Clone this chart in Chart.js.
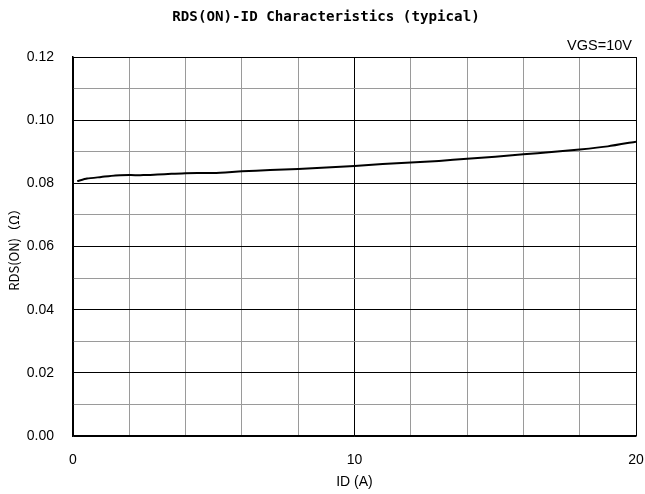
<!DOCTYPE html>
<html>
<head>
<meta charset="utf-8">
<script src="https://cdn.jsdelivr.net/npm/chart.js@4.4.1/dist/chart.umd.min.js"></script>
<style>
  html, body { margin: 0; padding: 0; background: #fff; }
  #wrap { width: 645px; height: 494px; }
</style>
</head>
<body>
<div id="wrap"><canvas id="c" width="645" height="494"></canvas></div>
<script>
// drain current vs on-resistance
const idValues  = [0.15, 0.5, 1, 1.5, 2, 2.5, 3, 3.5, 4, 5, 6, 7, 8, 9, 10, 11, 12, 13, 14, 15, 16, 17, 18, 19, 20]
const rdsValues = [0.0807, 0.0815, 0.0820, 0.0825, 0.0826, 0.0826, 0.0828, 0.0830, 0.0832, 0.0833, 0.0838, 0.0842,
                   0.0845, 0.0850, 0.0855, 0.0861, 0.0866, 0.0871, 0.0878, 0.0884, 0.0892, 0.0899, 0.0907, 0.0917, 0.0932]
const xLabelTicks = [0, 10, 20]
const yLabelTicks = [0, 0.02, 0.04, 0.06, 0.08, 0.10, 0.12]

const chartTitle = 'RDS(ON)-ID Characteristics (typical)'
const conditionText = 'VGS=10V'

const tickFont = { family: 'Liberation Sans, Arial, sans-serif', size: 14 }

const headerPlugin = {
  id: 'header',
  afterDraw(chart) {
    const { ctx, chartArea } = chart
    ctx.save()
    ctx.fillStyle = '#000'
    ctx.textBaseline = 'middle'
    ctx.font = 'bold 14.2px "DejaVu Sans Mono", monospace'
    ctx.textAlign = 'center'
    ctx.fillText(chartTitle, 326, 17)
    ctx.font = '14.5px Liberation Sans, Arial, sans-serif'
    ctx.textAlign = 'right'
    ctx.fillText(conditionText, chartArea.right - 4, 46)
    ctx.restore()
  }
}

const isMajorY = v => yLabelTicks.some(t => Math.abs(t - v) < 1e-6)
const isMajorX = v => xLabelTicks.includes(Math.round(v))

new Chart(document.getElementById('c').getContext('2d'), {
  type: 'line',
  data: {
    datasets: [{
      data: idValues.map((x, i) => ({ x, y: rdsValues[i] })),
      borderColor: '#000',
      borderWidth: 2,
      pointRadius: 0,
      tension: 0.2,
      fill: false,
    }]
  },
  options: {
    responsive: false,
    animation: false,
    layout: { padding: { top: 57, right: 9, bottom: 0, left: 0 } },
    plugins: { legend: { display: false }, tooltip: { enabled: false } },
    scales: {
      x: {
        type: 'linear',
        min: 0, max: 20,
        afterFit(scale) {
          scale.height = 58
          scale.paddingLeft = 0
          scale.paddingRight = 0
        },
        ticks: {
          stepSize: 2,
          autoSkip: false,
          maxRotation: 0,
          padding: 16,
          color: '#000',
          font: tickFont,
          callback: v => isMajorX(v) ? String(v) : '',
        },
        grid: {
          drawTicks: false,
          color: c => isMajorX(c.tick.value) ? '#000' : '#9a9a9a',
          lineWidth: 1,
        },
        border: { color: '#000', width: 1.5 },
        title: {
          display: true, text: 'ID (A)', color: '#000',
          font: { family: 'Liberation Sans, Arial, sans-serif', size: 14 },
          padding: { top: 0, bottom: 3 }
        },
      },
      y: {
        min: 0, max: 0.12,
        afterFit(scale) {
          scale.width = 73
          scale.paddingTop = 0
          scale.paddingBottom = 0
        },
        ticks: {
          stepSize: 0.01,
          autoSkip: false,
          padding: 19,
          color: '#000',
          font: tickFont,
          callback: v => isMajorY(v) ? v.toFixed(2) : '',
        },
        grid: {
          drawTicks: false,
          color: c => isMajorY(c.tick.value) ? '#000' : '#9a9a9a',
          lineWidth: 1,
        },
        border: { color: '#000', width: 1.5 },
        title: {
          display: true, text: 'RDS(ON)（Ω）', color: '#000',
          font: { family: '"Noto Sans CJK JP", sans-serif', size: 13 },
          padding: { top: 6, bottom: 0 }
        },
      }
    }
  },
  plugins: [headerPlugin]
})
</script>
</body>
</html>
